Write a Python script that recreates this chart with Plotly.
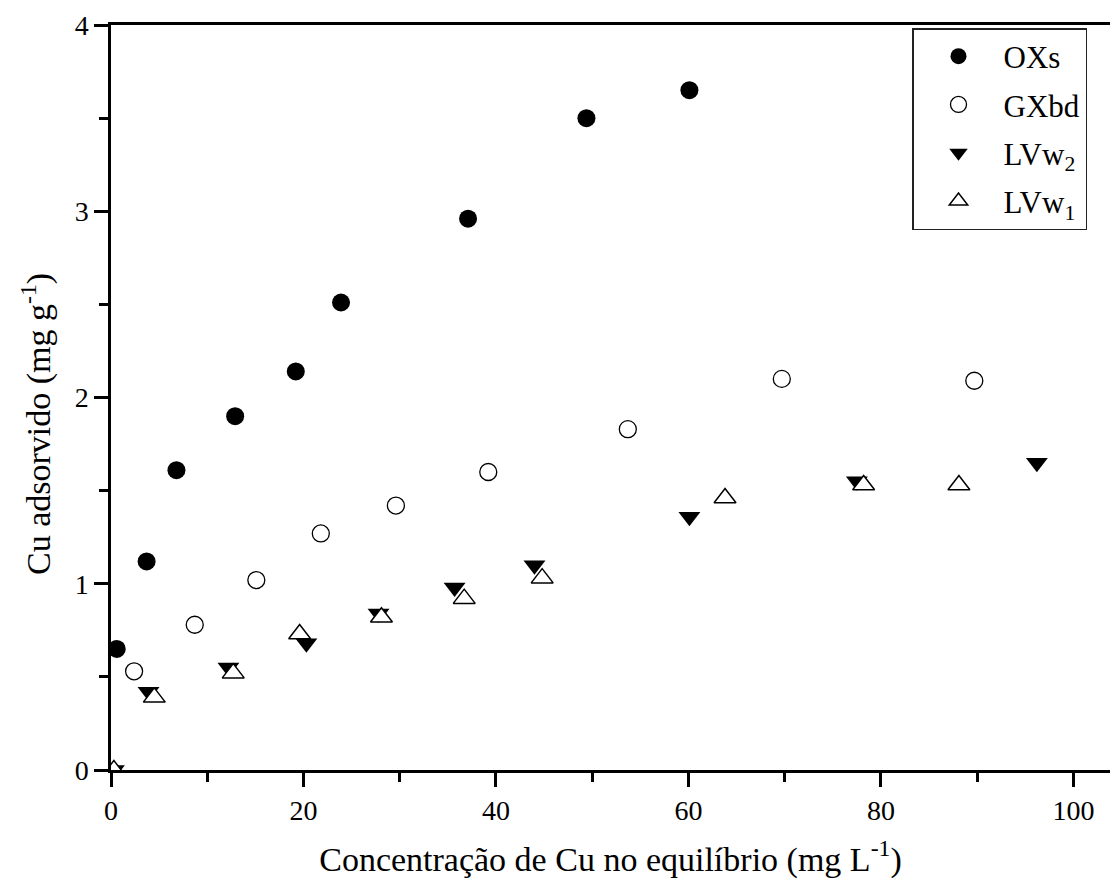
import plotly.graph_objects as go

# Data
oxs_x = [0.6, 3.7, 6.8, 12.9, 19.2, 23.9, 37.1, 49.4, 60.1]
oxs_y = [0.65, 1.12, 1.61, 1.90, 2.14, 2.51, 2.96, 3.50, 3.65]

gxbd_x = [2.4, 8.7, 15.1, 21.8, 29.6, 39.2, 53.7, 69.7, 89.7]
gxbd_y = [0.53, 0.78, 1.02, 1.27, 1.42, 1.60, 1.83, 2.10, 2.09]

lvw2_x = [0.3, 3.9, 12.2, 20.3, 27.8, 35.7, 44.0, 60.1, 77.5, 96.2]
lvw2_y = [0.0, 0.42, 0.55, 0.68, 0.84, 0.98, 1.10, 1.36, 1.55, 1.65]

lvw1_x = [0.3, 4.5, 12.7, 19.6, 28.1, 36.7, 44.8, 63.8, 78.2, 88.1]
lvw1_y = [0.0, 0.39, 0.52, 0.73, 0.82, 0.92, 1.03, 1.46, 1.53, 1.53]

x_ticks = [0, 20, 40, 60, 80, 100]
y_ticks = [0, 1, 2, 3, 4]

FONT = "Liberation Serif, Times New Roman, serif"

fig = go.Figure()
fig.add_trace(go.Scatter(
    x=oxs_x, y=oxs_y, mode="markers", name="OXs", legendgroup="a",
    marker=dict(symbol="circle", size=18, color="black", line=dict(width=0))))
fig.add_trace(go.Scatter(
    x=gxbd_x, y=gxbd_y, mode="markers", name="GXbd", legendgroup="b",
    marker=dict(symbol="circle-open", size=17, color="black", line=dict(width=1.3))))
fig.add_trace(go.Scatter(
    x=lvw2_x, y=lvw2_y, mode="markers", name="LVw<sub>2</sub>", legendgroup="c",
    marker=dict(symbol="triangle-down", size=19, color="black", line=dict(width=0))))
fig.add_trace(go.Scatter(
    x=lvw1_x, y=lvw1_y, mode="markers", name="LVw<sub>1</sub>", legendgroup="d",
    marker=dict(symbol="triangle-up", size=19, color="white",
                line=dict(width=1.5, color="black"))))

axis_common = dict(
    showgrid=False, zeroline=False, showline=True, linecolor="black", linewidth=2.5,
    ticks="outside", ticklen=14, tickwidth=2.5, tickcolor="black",
    tickfont=dict(family=FONT, size=28, color="black"),
)

fig.update_layout(
    width=1110, height=883,
    margin=dict(l=111, r=0, t=25, b=113),
    paper_bgcolor="white", plot_bgcolor="white",
    font=dict(family=FONT, color="black"),
    xaxis=dict(
        range=[0, 103.8], tickvals=x_ticks, mirror=True,
        minor=dict(ticks="outside", ticklen=9, tickwidth=2.5, tickcolor="black", dtick=10, tick0=0),
        title=dict(text="Concentração de Cu no equilíbrio (mg L<sup>-1</sup>)",
                   font=dict(family=FONT, size=34, color="black"), standoff=22),
        **axis_common),
    yaxis=dict(
        range=[0, 4], tickvals=y_ticks,
        minor=dict(ticks="outside", ticklen=9, tickwidth=2.5, tickcolor="black", dtick=0.5, tick0=0),
        **axis_common),
    showlegend=True,
    legend=dict(
        x=(912 - 111) / 999, xref="paper", xanchor="left",
        y=1 - 3 / 745, yanchor="top",
        bgcolor="white", bordercolor="#222", borderwidth=1.5,
        font=dict(family=FONT, size=31, color="black"),
        itemsizing="trace", itemwidth=80, tracegroupgap=5,
    ),
    annotations=[dict(
        text="Cu adsorvido (mg g<sup>-1</sup>)", textangle=-90,
        xref="paper", yref="paper", x=-75 / 999, y=(770 - 424) / 745,
        xanchor="center", yanchor="middle", showarrow=False,
        font=dict(family=FONT, size=34, color="black"))],
)

fig.write_html("out.html")
